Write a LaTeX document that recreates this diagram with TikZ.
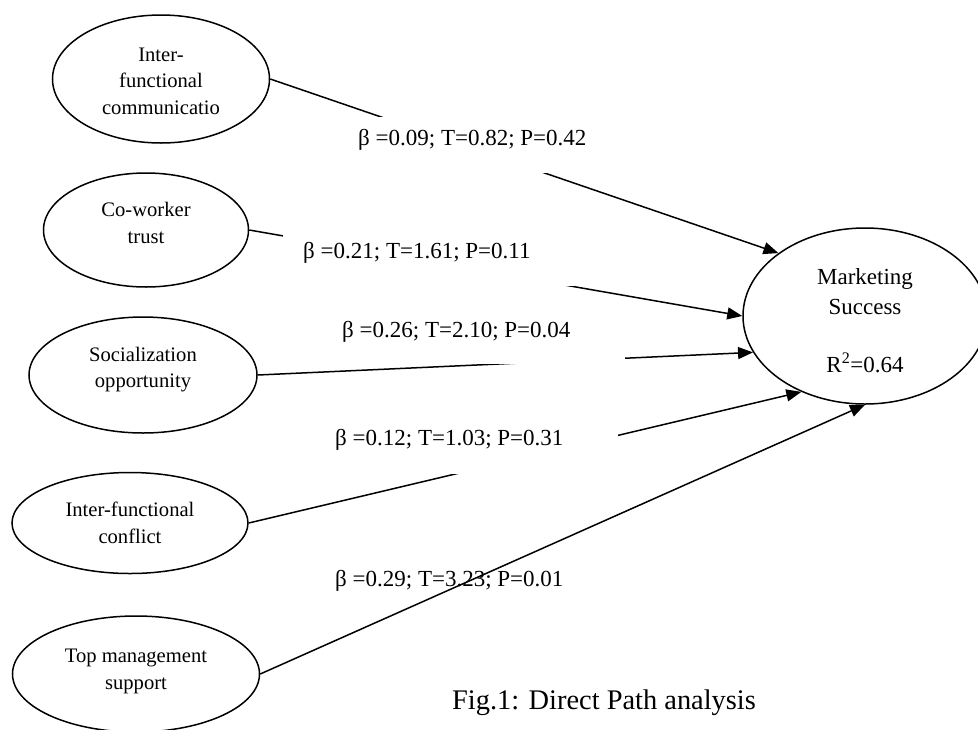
\documentclass[tikz,border=0pt]{standalone}
\usepackage{fontspec}
\setmainfont{Liberation Serif}
\usetikzlibrary{shapes.geometric,arrows.meta}
\tikzset{
  latent/.style={ellipse, draw, line width=1.5pt, align=center, inner sep=0pt,
    font=\fontsize{20.6}{26.5}\selectfont},
  pathline/.style={line width=1.5pt, -{Triangle[length=15pt,width=12pt]}},
  maskbox/.style={fill=white, inner sep=0pt, anchor=north west,
    minimum width=303pt, minimum height=56pt},
  lbl/.style={anchor=west, inner sep=0pt, font=\fontsize{23}{27}\selectfont}
}
\begin{document}
\begin{tikzpicture}[x=1pt,y=-1pt]
\useasboundingbox (0,0) rectangle (978,729);
% latent variables
\node[latent, minimum width=217pt, minimum height=128pt, text height=71pt] (e1) at (161,79) {Inter-\\functional\\communicatio};
\node[latent, minimum width=205pt, minimum height=114pt, text depth=14pt] (e2) at (146,230) {Co-worker\\trust};
\node[latent, minimum width=228pt, minimum height=116pt, text depth=15.5pt] (e3) at (143,375) {Socialization\\opportunity};
\node[latent, minimum width=236pt, minimum height=101pt] (e4) at (130,523) {Inter-functional\\conflict};
\node[latent, minimum width=247pt, minimum height=116pt, text depth=9.5pt] (e5) at (136,674) {Top management\\support};
\node[latent, minimum width=244pt, minimum height=176pt, font=\fontsize{23}{29.5}\selectfont, text height=113pt] (ms) at (865,316)
  {Marketing\\Success\\[28.5pt]R\textsuperscript{2}=0.64};
% paths
\draw[pathline] (e1.east) -- (ms.144);
\draw[pathline] (e2.east) -- (ms.180);
\draw[pathline] (e3.east) -- (ms.198.6);
\draw[pathline] (e4.east) -- (ms.230);
\draw[pathline] (e5.east) -- (ms.270);
% label backgrounds
\node[maskbox] (m1) at (338,117) {};
\node[maskbox] (m2) at (283,230) {};
\node[maskbox] (m3) at (322,307.5) {};
\node[maskbox] (m4) at (315,418) {};
% labels
\node[lbl] (l1) at (358,140) {β =0.09; T=0.82; P=0.42};
\node[lbl] (l2) at (303,253) {β =0.21; T=1.61; P=0.11};
\node[lbl] (l3) at (342,332) {β =0.26; T=2.10; P=0.04};
\node[lbl] (l4) at (335,440) {β =0.12; T=1.03; P=0.31};
\node[lbl] (l5) at (335,581) {β =0.29; T=3.23; P=0.01};
\node[anchor=west, inner sep=0pt, font=\fontsize{28.4}{32}\selectfont] (cap) at (452,703) {Fig.1: Direct Path analysis};
\end{tikzpicture}
\end{document}
